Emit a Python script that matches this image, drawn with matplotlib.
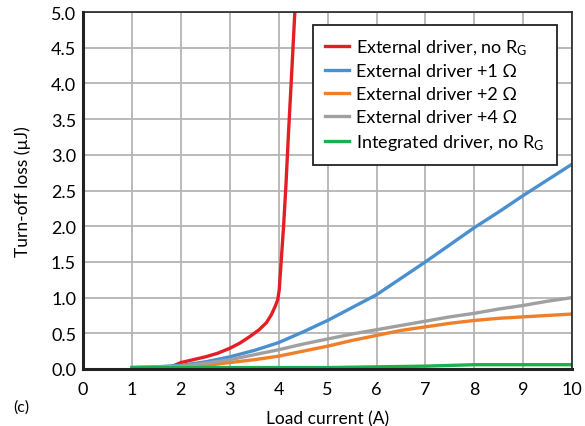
import matplotlib
matplotlib.use('Agg')
from matplotlib import pyplot as plt

# values
red_x = [1.6, 1.8, 2.0, 2.25, 2.5, 2.75, 3.0, 3.2, 3.4, 3.6, 3.75, 3.85, 3.93, 3.98,
         4.01, 4.05, 4.1, 4.15, 4.2, 4.27, 4.33]
red_y = [0.0, 0.03, 0.09, 0.13, 0.17, 0.22, 0.29, 0.36, 0.45, 0.55, 0.65, 0.76, 0.88, 0.97,
         1.1, 1.5, 2.0, 2.6, 3.3, 4.2, 5.0]

cur = [1, 1.5, 2, 2.5, 3, 3.5, 4, 4.5, 5, 5.5, 6, 6.5, 7, 7.5, 8, 8.5, 9, 9.5, 10]
blue_y = [0.02, 0.03, 0.05, 0.10, 0.17, 0.26, 0.37, 0.52, 0.68, 0.86, 1.04, 1.27,
          1.5, 1.74, 1.98, 2.2, 2.43, 2.65, 2.87]
orange_y = [0.02, 0.02, 0.03, 0.05, 0.09, 0.13, 0.18, 0.25, 0.32, 0.40, 0.47, 0.54,
            0.59, 0.64, 0.68, 0.71, 0.73, 0.75, 0.77]
gray_y = [0.02, 0.03, 0.04, 0.08, 0.13, 0.20, 0.27, 0.35, 0.42, 0.49, 0.55, 0.61,
          0.67, 0.73, 0.78, 0.84, 0.89, 0.95, 1.0]
green_y = [0.02, 0.02, 0.02, 0.02, 0.02, 0.02, 0.02, 0.02, 0.02, 0.025, 0.03, 0.035,
           0.04, 0.05, 0.06, 0.06, 0.06, 0.06, 0.06]

labels = ['External driver, no R$_G$', 'External driver +1 \u03a9',
          'External driver +2 \u03a9', 'External driver +4 \u03a9',
          'Integrated driver, no R$_G$']

plt.rcParams['font.family'] = ['Lato', 'DejaVu Sans']
plt.rcParams['mathtext.fontset'] = 'custom'
plt.rcParams['mathtext.rm'] = 'Lato'
plt.rcParams['mathtext.it'] = 'Lato'

fig = plt.figure(figsize=(5.85, 4.27), dpi=100)
ax = fig.add_axes([0.142, 0.1335, 0.836, 0.836])

lw = 2.4
ax.plot(red_x, red_y, c='#e31e24', lw=lw, label=labels[0])
ax.plot(cur, blue_y, c='#4a90d0', lw=lw, label=labels[1])
ax.plot(cur, orange_y, c='#f07f2a', lw=lw, label=labels[2])
ax.plot(cur, gray_y, c='#a0a0a0', lw=lw, label=labels[3])
ax.plot(cur, green_y, c='#1ab04b', lw=lw, label=labels[4])

ax.set_xlim(0, 10)
ax.set_ylim(0, 5)
ax.set_xticks(range(0, 11))
ax.set_yticks([i * 0.5 for i in range(11)])
ax.set_yticklabels(['%.1f' % (i * 0.5) for i in range(11)])
ax.grid(True, color='#b4b4b4', lw=1.3)
ax.set_axisbelow(True)
ax.tick_params(axis='x', length=0, labelsize=13, pad=9)
ax.tick_params(axis='y', length=0, labelsize=13, pad=5)

ax.spines['left'].set_linewidth(2.2)
ax.spines['bottom'].set_linewidth(2.2)
ax.spines['top'].set_linewidth(1.2)
ax.spines['right'].set_linewidth(1.2)
for s in ax.spines.values():
    s.set_color('#222222')

ax.set_xlabel('Load current (A)', fontsize=12.5, labelpad=9)
ax.set_ylabel('Turn-off loss (\u00b5J)', fontsize=12.5, labelpad=14)

leg = ax.legend(loc='upper right', bbox_to_anchor=(0.969, 0.965), fontsize=13,
                fancybox=False, framealpha=1, edgecolor='#222222',
                handlelength=1.3, handletextpad=0.4, labelspacing=0.38,
                borderpad=0.7, borderaxespad=0)
leg.get_frame().set_linewidth(1.3)

fig.text(0.022, 0.035, '(c)', fontsize=11.5)

fig.savefig('out.png', dpi=100)
